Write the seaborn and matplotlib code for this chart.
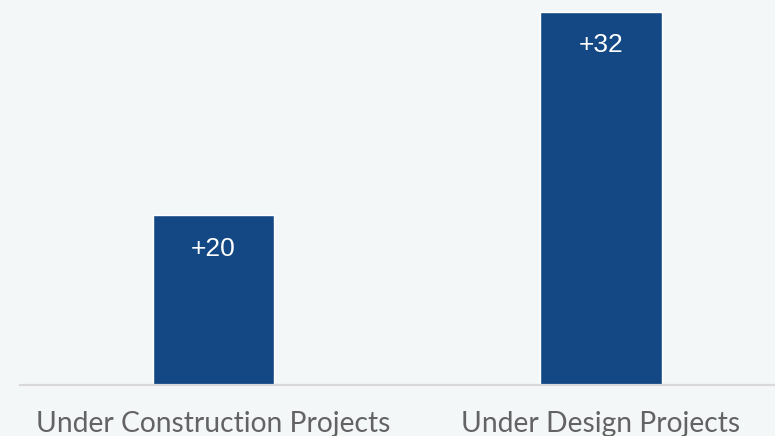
import matplotlib
matplotlib.use("Agg")
import matplotlib.pyplot as plt
import seaborn as sns
import pandas as pd

categories = ["Under Construction Projects", "Under Design Projects"]
values = [20, 32]
labels = ["+20", "+32"]

bg = "#f4f7f8"
bar_color = "#134885"

sns.set_theme(style="white")
plt.rcParams["font.family"] = ["Lato", "DejaVu Sans"]

df = pd.DataFrame({"category": categories, "value": values})

fig = plt.figure(figsize=(7.75, 4.36), dpi=100, facecolor=bg)
ax = fig.add_axes([20 / 775, 51 / 436, 755 / 775, 385 / 436])
ax.set_facecolor(bg)

sns.barplot(data=df, x="category", y="value", color=bar_color, width=0.314,
            saturation=1, ax=ax)

ax.set_xlim(-0.5, 1.45)
ax.set_ylim(10, 32.7)

for i, (v, lab) in enumerate(zip(values, labels)):
    ax.annotate(lab, (i, v), xytext=(0, -24), textcoords="offset points",
                ha="center", va="center", color="white", fontsize=19,
                family=["Liberation Sans", "DejaVu Sans"])

for s in ["top", "right", "left"]:
    ax.spines[s].set_visible(False)
ax.spines["bottom"].set_color("#d9d9d9")
ax.spines["bottom"].set_linewidth(1.6)
ax.set_yticks([])
ax.set_xlabel("")
ax.set_ylabel("")
ax.tick_params(axis="x", length=0, pad=19, labelsize=20.3, labelcolor="#636363")

fig.savefig("out.png", dpi=100, facecolor=bg)
